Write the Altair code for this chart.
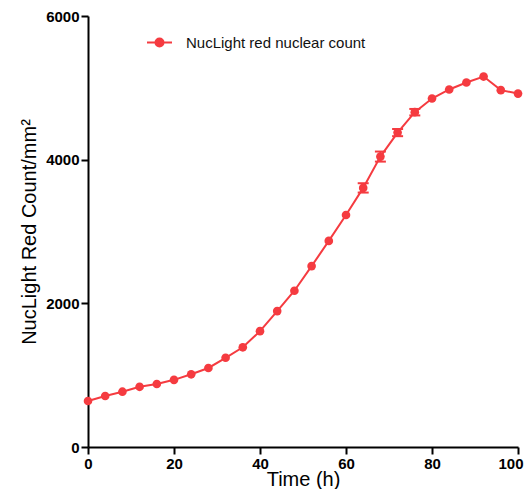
import altair as alt
import pandas as pd

time_h = [0, 4, 8, 12, 16, 20, 24, 28, 32, 36, 40, 44, 48, 52, 56, 60, 64, 68, 72, 76, 80, 84, 88, 92, 96, 100]
count = [640, 710, 770, 838, 877, 935, 1012, 1100, 1242, 1388, 1613, 1892, 2175, 2518, 2869, 3230,
         3607, 4043, 4377, 4661, 4851, 4977, 5074, 5157, 4968, 4920]
err = [0, 0, 0, 0, 0, 0, 0, 0, 0, 0, 0, 0, 0, 0, 0, 0, 65, 70, 50, 45, 0, 0, 0, 0, 0, 0]
series_name = "NucLight red nuclear count"
x_ticks = [0, 20, 40, 60, 80, 100]
y_ticks = [0, 2000, 4000, 6000]

RED = "#F53B40"
FONT = "Liberation Sans"

df = pd.DataFrame({"t": time_h, "c": count, "e": err})
df["lo"] = df["c"] - df["e"]
df["hi"] = df["c"] + df["e"]
df["series"] = series_name

xenc = alt.X("t:Q", scale=alt.Scale(domain=[0, 100], nice=False),
             axis=alt.Axis(values=x_ticks, title="Time (h)", format="d", labelFlush=False,
                           labelAlign=alt.expr("datum.value == 100 ? 'right' : 'center'"),
                           labelOffset=alt.expr("datum.value == 100 ? 5 : 0"),
                           titleBaseline="alphabetic", titleY=38))
yscale = alt.Scale(domain=[0, 6000], nice=False)
yaxis = alt.Axis(values=y_ticks, title="NucLight Red Count/mm²", format="d", titlePadding=6)

sym = "M-1,0L1,0M-0.32,0A0.32,0.32,0,1,1,0.32,0A0.32,0.32,0,1,1,-0.32,0Z"

base = alt.Chart(df)
errdf = base.transform_filter("datum.e > 0")

line = base.mark_line(strokeWidth=2).encode(
    x=xenc,
    y=alt.Y("c:Q", scale=yscale, axis=yaxis),
    color=alt.Color("series:N", scale=alt.Scale(range=[RED]),
                    legend=alt.Legend(orient="none", legendX=58, legendY=13, title=None,
                                      symbolType=sym, symbolSize=625, symbolStrokeWidth=2,
                                      symbolFillColor=RED, symbolStrokeColor=RED,
                                      labelFont=FONT, labelFontSize=15, labelColor="#111111",
                                      labelLimit=400, labelOffset=13, padding=0)),
)

rule = errdf.mark_rule(color=RED, strokeWidth=2).encode(
    x="t:Q", y=alt.Y("lo:Q", scale=yscale), y2="hi:Q"
)
tick_lo = errdf.mark_tick(color=RED, orient="horizontal", size=11, thickness=2, opacity=1).encode(
    x="t:Q", y=alt.Y("lo:Q", scale=yscale)
)
tick_hi = errdf.mark_tick(color=RED, orient="horizontal", size=11, thickness=2, opacity=1).encode(
    x="t:Q", y=alt.Y("hi:Q", scale=yscale)
)
pts = base.mark_point(filled=True, size=75, opacity=1, color=RED).encode(
    x="t:Q", y=alt.Y("c:Q", scale=yscale)
)

chart = alt.layer(line, rule, tick_lo, tick_hi, pts).properties(
    width=430, height=431,
    autosize=alt.AutoSizeParams(type="none"),
    padding={"left": 80, "top": 8, "right": 6, "bottom": 42},
).configure_view(stroke=None).configure_axis(
    grid=False, domainColor="black", domainWidth=2, tickColor="black", tickWidth=2, tickSize=7,
    labelFont=FONT, labelFontWeight="bold", labelFontSize=15, labelColor="black", labelPadding=2,
    titleFont=FONT, titleFontWeight="normal", titleFontSize=20, titleColor="black",
)

chart.save("out.html", embed_options={"renderer": "svg", "actions": False})
